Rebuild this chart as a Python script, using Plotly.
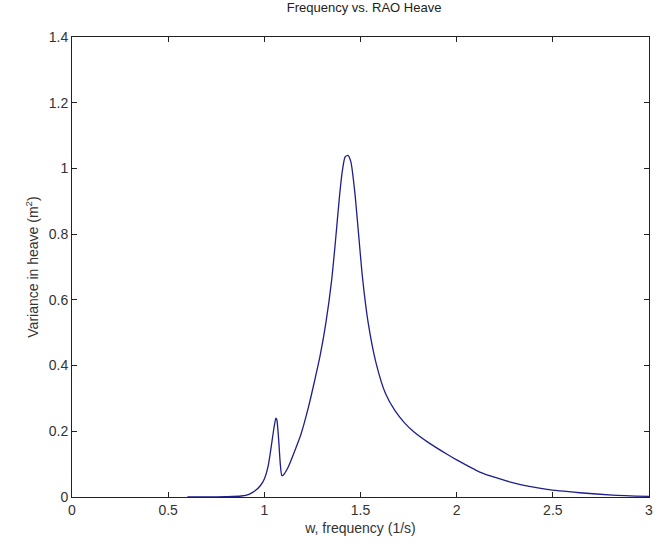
import plotly.graph_objects as go

freq = [0.60, 0.70, 0.80, 0.88, 0.92, 0.95, 0.98, 1.00, 1.02, 1.035, 1.05, 1.06,
        1.065, 1.075, 1.083, 1.091, 1.10, 1.125, 1.16, 1.19, 1.23, 1.26, 1.29,
        1.32, 1.35, 1.37, 1.39, 1.405, 1.42, 1.435, 1.45, 1.47, 1.49, 1.51, 1.54,
        1.58, 1.63, 1.68, 1.73, 1.78, 1.85, 1.95, 2.0, 2.12, 2.3, 2.47, 2.64, 2.81, 3.0]
variance = [0.0, 0.0, 0.001, 0.003, 0.008, 0.018, 0.035, 0.055, 0.095, 0.15, 0.21, 0.24,
            0.235, 0.17, 0.10, 0.065, 0.068, 0.092, 0.143, 0.19, 0.275, 0.35, 0.43,
            0.53, 0.66, 0.78, 0.91, 0.99, 1.035, 1.04, 1.02, 0.93, 0.80, 0.67, 0.53,
            0.41, 0.315, 0.262, 0.225, 0.197, 0.167, 0.130, 0.113, 0.076, 0.042, 0.023, 0.013, 0.006, 0.002]

x_ticks = [0, 0.5, 1, 1.5, 2, 2.5, 3]
y_ticks = [0, 0.2, 0.4, 0.6, 0.8, 1, 1.2, 1.4]

fig = go.Figure()
fig.add_trace(go.Scatter(x=freq, y=variance, mode="lines",
                         line=dict(color="rgb(30,30,140)", width=1.3, shape="spline", smoothing=0.6),
                         showlegend=False))

font = dict(family="Liberation Sans, Arial, sans-serif", size=14, color="#333")
axis_common = dict(showgrid=False, zeroline=False, showline=True, linecolor="#222", linewidth=1,
                   mirror="ticks", ticks="inside", ticklen=5, tickcolor="#222", tickfont=font,
                   ticklabeloverflow="allow")

fig.update_layout(
    width=656, height=548,
    margin=dict(l=72, r=3, t=37, b=51),
    paper_bgcolor="white", plot_bgcolor="white",
    font=font,
    title=dict(text="Frequency vs. RAO Heave", x=0.555, xanchor="center", y=0.995, yanchor="top",
               font=dict(family="Liberation Sans, Arial, sans-serif", size=13, color="#222")),
    xaxis=dict(range=[0, 3], tickvals=x_ticks, ticktext=[str(v) for v in x_ticks],
               title=dict(text="w, frequency (1/s)", standoff=6, font=font), **axis_common),
    yaxis=dict(range=[0, 1.4], tickvals=y_ticks, ticktext=[str(v) for v in y_ticks],
               title=dict(text="Variance in heave (m<sup>2</sup>)", standoff=6, font=font), **axis_common),
)

fig.write_html("out.html")
